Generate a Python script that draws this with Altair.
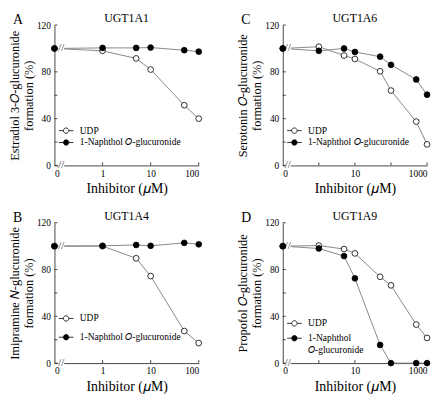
import altair as alt
import pandas as pd

FONT = "Liberation Serif"
UDP = "UDP"
NAP = "1-Naphthol 𝑂-glucuronide"

x_short = [0, 1, 5, 10, 50, 100]
x_long = [0, 1, 5, 10, 50, 100, 500, 1000]

a_udp = [100, 98, 91.5, 82, 51.5, 40]
a_nap = [100, 100.5, 100.5, 100.8, 98.5, 97.3]
b_udp = [100, 100, 89.6, 74.4, 27.4, 17.1]
b_nap = [100, 100.3, 101, 100.3, 102.8, 101.6]
c_udp = [100, 101.5, 94, 91, 80.5, 64, 37.5, 18]
c_nap = [100, 98, 100, 97, 93, 86, 73.5, 60.5]
d_udp = [100, 100.5, 97.5, 93.8, 73.8, 66.5, 33, 21.5]
d_nap = [100, 98, 91.5, 72.5, 15.5, 0, 0, 0]

y_ticks = [0, 20, 40, 60, 80, 100, 120]

W, H = 146, 142
SYM = "M-2.7,0H-1 M1,0H2.7 M-1,0A1,1 0 1,1 1,0A1,1 0 1,1 -1,0"


def panel(letter, enzyme, ytitle, xs, udp, nap, xmax, leg_y, row_pad, two_line=False):
    df = pd.DataFrame({
        "conc": xs + xs,
        "pct": udp + nap,
        "series": [UDP] * len(xs) + [NAP] * len(xs),
    })
    pos_expr = "datum.conc == 0 ? -1 : log(datum.conc) / LN10"
    xscale = alt.Scale(domain=[-1, xmax], nice=False, zero=False)
    yscale = alt.Scale(domain=[0, 120], nice=False)
    xaxis = alt.Axis(
        values=list(range(-1, xmax + 1)),
        labelExpr="datum.value < 0 ? '0' : format(pow(10, datum.value), 'd')",
        title="Inhibitor (𝜇M)", ticks=False, labelPadding=3, titlePadding=4,
        labelFont=FONT, titleFont=FONT, titleFontWeight="normal",
        labelFontWeight="normal", titleFontSize=14, labelFontSize=9.5,
    )
    yaxis = alt.Axis(values=y_ticks, title=ytitle, ticks=False, labelPadding=4,
                     titlePadding=1, labelFont=FONT, titleFont=FONT,
                     titleFontWeight="normal", labelFontWeight="normal",
                     titleFontSize=12.5, labelFontSize=9.5, titleLineHeight=14.5)
    base = alt.Chart(df).transform_calculate(pos=pos_expr)
    lines = base.mark_line(color="#7a7a7a", strokeWidth=0.9).encode(
        x=alt.X("pos:Q", scale=xscale, axis=xaxis),
        y=alt.Y("pct:Q", scale=yscale, axis=yaxis),
        detail="series:N",
    )
    leg_kwargs = dict(
        orient="none", legendX=7, legendY=leg_y, title=None,
        symbolType=SYM, symbolSize=30, symbolStrokeColor="black",
        symbolStrokeWidth=0.8, labelFont=FONT, labelFontSize=9.6,
        labelFontWeight="normal",
        labelOffset=9, rowPadding=row_pad, labelColor="black",
    )
    if two_line:
        leg_kwargs["labelExpr"] = ("datum.label == 'UDP' ? 'UDP' : "
                                   "['1-Naphthol', '𝑂-glucuronide']")
    points = base.mark_point(filled=True, size=34, stroke="black",
                             strokeWidth=0.8, opacity=1, shape="circle").encode(
        x="pos:Q", y="pct:Q",
        fill=alt.Fill("series:N",
                      scale=alt.Scale(domain=[UDP, NAP], range=["white", "black"]),
                      legend=alt.Legend(**leg_kwargs)),
        order=alt.Order("series:N", sort="descending"),
    )
    brk = pd.DataFrame({"pos": [-0.86, -0.86], "pct": [100, 0]})
    brk_bg = alt.Chart(brk).mark_point(shape="square", filled=True, color="white",
                                       size=36, opacity=1).encode(x="pos:Q", y="pct:Q")
    brk_tx = alt.Chart(brk).mark_text(text="//", font=FONT, fontSize=11,
                                      color="#333").encode(x="pos:Q", y="pct:Q")
    ytk = alt.Chart(pd.DataFrame({"pct": y_ticks})).mark_rule(
        color="#333", strokeWidth=0.9).encode(
        y="pct:Q", x=alt.value(0), x2=alt.value(3))
    xtk = alt.Chart(pd.DataFrame({"pos": list(range(0, xmax + 1))})).mark_rule(
        color="#333", strokeWidth=0.9).encode(
        x="pos:Q", y=alt.value(H), y2=alt.value(H - 3))
    heads = pd.DataFrame({"t": [letter, enzyme], "kind": ["letter", "title"]})
    letter_mk = alt.Chart(heads).transform_filter("datum.kind == 'letter'").mark_text(
        font=FONT, fontSize=14, align="left", baseline="alphabetic", color="black"
    ).encode(text="t:N", x=alt.value(-42), y=alt.value(-1))
    title_mk = alt.Chart(heads).transform_filter("datum.kind == 'title'").mark_text(
        font=FONT, fontSize=12, align="center", baseline="alphabetic", color="black"
    ).encode(text="t:N", x=alt.value(W / 2), y=alt.value(-3))
    return alt.layer(lines, brk_bg, brk_tx, ytk, xtk, points, letter_mk,
                     title_mk).properties(width=W, height=H)


pa = panel("A", "UGT1A1", ["Estradiol 3-𝑂-glucuronide", "formation (%)"],
           x_short, a_udp, a_nap, 2, 102, 1)
pb = panel("B", "UGT1A4", ["Imipramine 𝑁-glucuronide", "formation (%)"],
           x_short, b_udp, b_nap, 2, 92, 8)
pc = panel("C", "UGT1A6", ["Serotonin 𝑂-glucuronide", "formation (%)"],
           x_long, c_udp, c_nap, 3, 102, 1)
pd_ = panel("D", "UGT1A9", ["Propofol 𝑂-glucuronide", "formation (%)"],
            x_long, d_udp, d_nap, 3, 97, 4, two_line=True)

row1 = alt.hconcat(pa, pc, spacing=33).resolve_scale(fill="independent").resolve_legend(fill="independent")
row2 = alt.hconcat(pb, pd_, spacing=33).resolve_scale(fill="independent").resolve_legend(fill="independent")

chart = alt.vconcat(row1, row2, spacing=14).resolve_scale(
    fill="independent").resolve_legend(fill="independent").configure(
    padding={"top": 2, "left": 0, "right": 0, "bottom": 0},
    background="white", font=FONT).configure_view(stroke=None).configure_axis(
    grid=False, domainColor="#333", domainWidth=0.9,
    labelFont=FONT, labelColor="black",
    titleFont=FONT, titleFontWeight="normal", titleColor="black",
).configure_legend(labelFont=FONT, labelFontWeight="normal")

chart.save("out.html", embed_options={"renderer": "svg", "actions": False})
